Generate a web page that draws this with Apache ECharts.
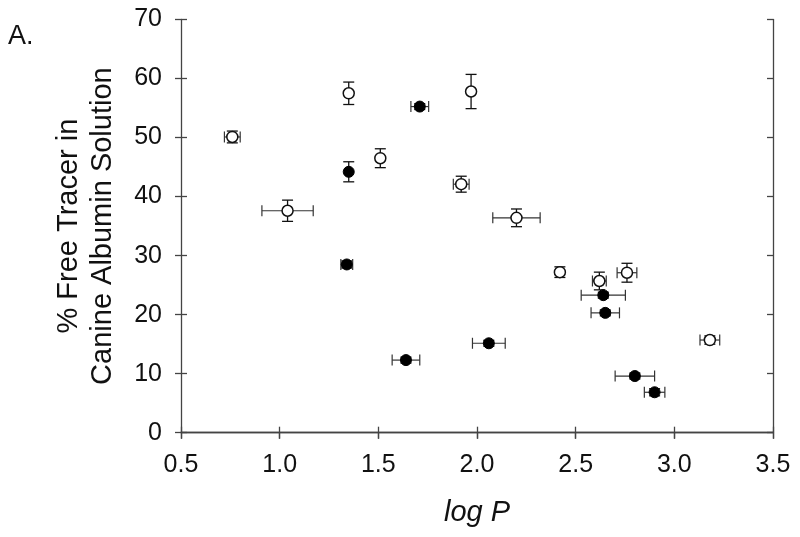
<!DOCTYPE html>
<html>
<head>
<meta charset="utf-8">
<script src="https://cdn.jsdelivr.net/npm/echarts@6/dist/echarts.min.js"></script>
<style>
html,body{margin:0;padding:0;background:#fff;}
#chart{width:800px;height:537px;}
</style>
</head>
<body>
<div id="chart"></div>
<script>
// Open circles
var openX    = [0.76, 1.35, 1.04, 1.51, 1.97, 1.92, 2.20, 2.42, 2.62, 2.76, 3.18];
var openY    = [50.1, 57.5, 37.6, 46.5, 57.8, 42.1, 36.4, 27.2, 25.7, 27.1, 15.7];
var openXErr = [0.04, 0, 0.13, 0, 0, 0.04, 0.12, 0, 0.035, 0.05, 0.05];
var openYErr = [1.0, 1.9, 1.8, 1.6, 2.9, 1.35, 1.5, 0.9, 1.5, 1.6, 0.7];
// Filled circles
var filledX    = [1.71, 1.35, 1.34, 1.64, 2.06, 2.64, 2.65, 2.80, 2.90];
var filledY    = [55.25, 44.2, 28.5, 12.3, 15.15, 23.3, 20.3, 9.6, 6.85];
var filledXErr = [0.045, 0, 0.03, 0.07, 0.083, 0.112, 0.072, 0.1, 0.052];
var filledYErr = [0.5, 1.7, 0.6, 0.5, 0.5, 0.5, 0.5, 0.5, 0.6];
// Axes
var xTicks = [0.5, 1.0, 1.5, 2.0, 2.5, 3.0, 3.5];
var yTicks = [0, 10, 20, 30, 40, 50, 60, 70];
var xTitle = 'log P';
var yTitle = '% Free Tracer in\nCanine Albumin Solution';
var panelLabel = 'A.';

function rows(xs, ys, xe, ye) {
  return xs.map(function (x, i) { return [x, ys[i], xe[i], ye[i]]; });
}
var openData = rows(openX, openY, openXErr, openYErr);
var filledData = rows(filledX, filledY, filledXErr, filledYErr);

var CAP = 5.5;
function errRender(params, api) {
  var x = api.value(0), y = api.value(1), xe = api.value(2), ye = api.value(3);
  var children = [];
  var style = { stroke: '#111', lineWidth: 1.3 };
  if (ye > 0) {
    var t = api.coord([x, y + ye]), b = api.coord([x, y - ye]);
    children.push({ type: 'line', shape: { x1: t[0], y1: t[1], x2: b[0], y2: b[1] }, style: style });
    children.push({ type: 'line', shape: { x1: t[0] - CAP, y1: t[1], x2: t[0] + CAP, y2: t[1] }, style: style });
    children.push({ type: 'line', shape: { x1: b[0] - CAP, y1: b[1], x2: b[0] + CAP, y2: b[1] }, style: style });
  }
  if (xe > 0) {
    var l = api.coord([x - xe, y]), r = api.coord([x + xe, y]);
    var hs = { stroke: '#333', lineWidth: 1.2 };
    children.push({ type: 'line', shape: { x1: l[0], y1: l[1], x2: r[0], y2: r[1] }, style: hs });
    children.push({ type: 'line', shape: { x1: l[0], y1: l[1] - CAP, x2: l[0], y2: l[1] + CAP }, style: hs });
    children.push({ type: 'line', shape: { x1: r[0], y1: r[1] - CAP, x2: r[0], y2: r[1] + CAP }, style: hs });
  }
  return { type: 'group', children: children };
}

var axisColor = '#444';
var font = 'Liberation Sans, Arial, sans-serif';
var chart = echarts.init(document.getElementById('chart'), null, { renderer: 'canvas' });
var baseX = { type: 'value', min: xTicks[0], max: xTicks[xTicks.length - 1], interval: 0.5, splitLine: { show: false } };
var baseY = { type: 'value', min: yTicks[0], max: yTicks[yTicks.length - 1], interval: 10, splitLine: { show: false } };

chart.setOption({
  animation: false,
  backgroundColor: '#fff',
  title: {
    text: panelLabel, left: 3, top: 18,
    textStyle: { fontFamily: font, fontSize: 27, fontWeight: 'normal', color: '#111' }
  },
  grid: { left: 181, right: 27, top: 19.5, bottom: 104.3, containLabel: false },
  xAxis: [
    Object.assign({}, baseX, {
      position: 'bottom',
      axisLine: { show: true, lineStyle: { color: axisColor, width: 1.3 } },
      axisTick: { show: true, inside: false, length: 6, lineStyle: { color: axisColor, width: 1.3 } },
      axisLabel: { show: true, margin: 20, fontSize: 25, fontFamily: font, color: '#111',
        formatter: function (v) { return v.toFixed(1); } },
      name: xTitle, nameLocation: 'middle', nameGap: 66,
      nameTextStyle: { fontFamily: font, fontSize: 29, fontStyle: 'italic', color: '#111' }
    }),
    Object.assign({}, baseX, {
      position: 'bottom',
      axisLine: { show: false },
      axisTick: { show: true, inside: true, length: 6, lineStyle: { color: axisColor, width: 1.3 } },
      axisLabel: { show: false }
    }),
    Object.assign({}, baseX, {
      position: 'top',
      axisLine: { show: true, lineStyle: { color: axisColor, width: 1.3 } },
      axisTick: { show: true, inside: true, length: 6, lineStyle: { color: axisColor, width: 1.3 } },
      axisLabel: { show: false }
    })
  ],
  yAxis: [
    Object.assign({}, baseY, {
      position: 'left',
      axisLine: { show: true, lineStyle: { color: axisColor, width: 1.3 } },
      axisTick: { show: true, inside: false, length: 6, lineStyle: { color: axisColor, width: 1.3 } },
      axisLabel: { show: true, margin: 19, fontSize: 25, fontFamily: font, color: '#111' },
      name: yTitle, nameLocation: 'middle', nameGap: 61, nameRotate: 90,
      nameTextStyle: { fontFamily: font, fontSize: 29, color: '#111', lineHeight: 34, align: 'center' }
    }),
    Object.assign({}, baseY, {
      position: 'left',
      axisLine: { show: false },
      axisTick: { show: true, inside: true, length: 6, lineStyle: { color: axisColor, width: 1.3 } },
      axisLabel: { show: false }
    }),
    Object.assign({}, baseY, {
      position: 'right',
      axisLine: { show: true, lineStyle: { color: axisColor, width: 1.3 } },
      axisTick: { show: true, inside: true, length: 6, lineStyle: { color: axisColor, width: 1.3 } },
      axisLabel: { show: false }
    })
  ],
  series: [
    { type: 'custom', name: 'open err', xAxisIndex: 0, yAxisIndex: 0, renderItem: errRender, data: openData, z: 1, silent: true },
    { type: 'custom', name: 'filled err', xAxisIndex: 0, yAxisIndex: 0, renderItem: errRender, data: filledData, z: 1, silent: true },
    { type: 'scatter', name: 'open', xAxisIndex: 0, yAxisIndex: 0, data: openData, symbol: 'circle', symbolSize: 11, z: 3,
      itemStyle: { color: '#fff', borderColor: '#111', borderWidth: 1.5, opacity: 1 } },
    { type: 'scatter', name: 'filled', xAxisIndex: 0, yAxisIndex: 0, data: filledData, symbol: 'circle', symbolSize: 11, z: 3,
      itemStyle: { color: '#000', borderColor: '#000', borderWidth: 1, opacity: 1 } }
  ]
});
</script>
</body>
</html>
